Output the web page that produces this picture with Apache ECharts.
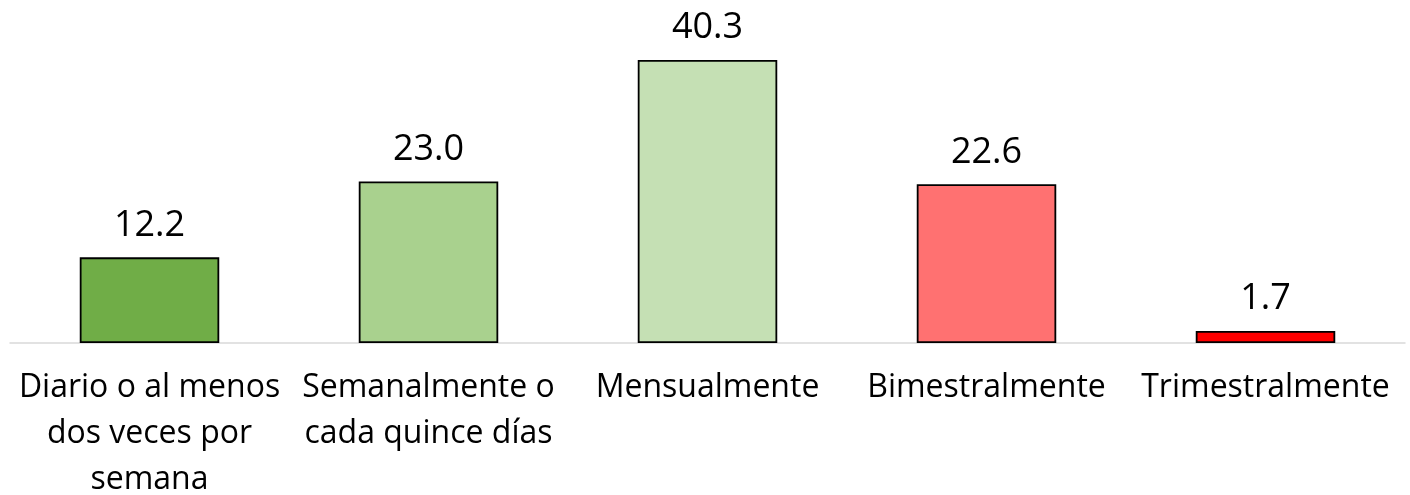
<!DOCTYPE html>
<html>
<head>
<meta charset="utf-8">
<script src="https://cdn.jsdelivr.net/npm/echarts@6/dist/echarts.min.js"></script>
<style>
  html, body { margin: 0; padding: 0; background: #fff; }
  #chart { width: 1410px; height: 495px; }
</style>
</head>
<body>
<div id="chart"></div>
<script>
// categories and values
var categories = [
  'Diario o al menos\ndos veces por\nsemana',
  'Semanalmente o\ncada quince días',
  'Mensualmente',
  'Bimestralmente',
  'Trimestralmente'
]
var values = [12.2, 23.0, 40.3, 22.6, 1.7]
var barColors = ['#70AD47', '#A9D18E', '#C5E0B4', '#FF7171', '#FF0000']

var myChart = echarts.init(document.getElementById('chart'))
var option = {
  backgroundColor: '#ffffff',
  animation: false,
  grid: { left: 10, right: 5, top: 27, bottom: 152, outerBoundsMode: 'none', containLabel: false },
  xAxis: {
    type: 'category',
    data: categories,
    axisTick: { show: false },
    axisLine: { lineStyle: { color: '#D9D9D9', width: 1.5 } },
    axisLabel: {
      interval: 0,
      margin: 22,
      color: '#000',
      fontFamily: 'Open Sans',
      fontSize: 32,
      lineHeight: 46
    }
  },
  yAxis: {
    type: 'value',
    min: 0,
    max: 45,
    show: false,
    splitLine: { show: false }
  },
  series: [{
    type: 'bar',
    barWidth: '50%',
    data: values.map(function (v, i) {
      return { value: v, itemStyle: { color: barColors[i] } }
    }),
    itemStyle: { borderColor: '#000', borderWidth: 1.8 },
    label: {
      show: true,
      position: 'top',
      distance: 14,
      color: '#000',
      fontFamily: 'Open Sans',
      fontSize: 36,
      formatter: function (p) { return p.value.toFixed(1) }
    }
  }]
}
myChart.setOption(option)
</script>
</body>
</html>
